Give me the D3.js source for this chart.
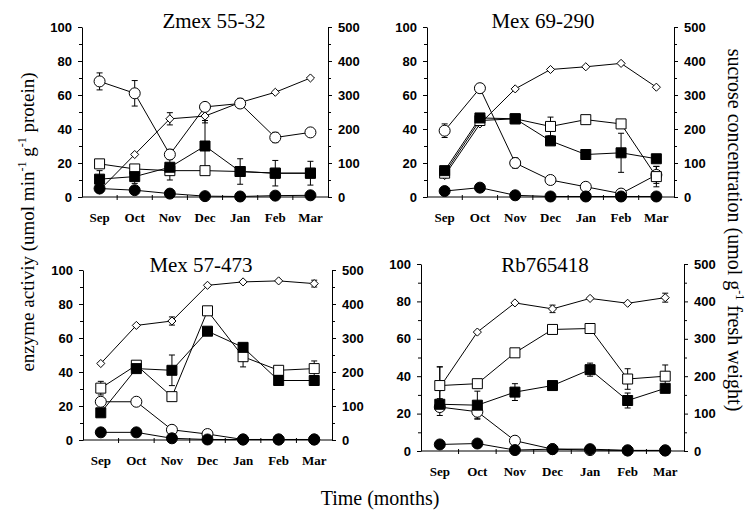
<!DOCTYPE html>
<html>
<head>
<meta charset="utf-8">
<script src="https://cdn.jsdelivr.net/npm/d3@7"></script>
<style>
  body { margin: 0; background: #fff; }
  svg { display: block; font-family: "Liberation Serif", "DejaVu Serif", serif; }
  .tick text { font-weight: bold; font-size: 13px; }
</style>
</head>
<body>
<svg id="chart" width="748" height="513"></svg>
<script>
// ---- data ----
const months = ["Sep", "Oct", "Nov", "Dec", "Jan", "Feb", "Mar"];
const leftTicks = [0, 20, 40, 60, 80, 100];
const rightTicks = [0, 100, 200, 300, 400, 500];
const titles = ["Zmex 55-32", "Mex 69-290", "Mex 57-473", "Rb765418"];

// enzyme activity (left axis), one row per panel
const openCircle = [
    [68, 61, 25, 53, 55, 35, 38],
    [39, 64, 20, 10, 6, 2, 13],
    [22.5, 22.5, 6, 3.5, 0.3, 0.3, 0.3],
    [23.5, 21, 5.5, 1, 0.5, 0.3, 0.3]
];
const openCircleErr = [
    [5, 7.5, 3, 0, 0, 3, 0],
    [4, 0, 3, 0, 0, 0, 5],
    [0, 0, 0, 0, 0, 0, 0],
    [4.5, 3.5, 0, 0, 0, 0, 0]
];
const filledCircle = [
    [5, 4, 2, 0.5, 0.3, 0.8, 1],
    [3.5, 5.5, 1, 0.3, 0.3, 0.3, 0.3],
    [4.5, 4.5, 1, 0.3, 0.3, 0.3, 0.3],
    [3.5, 4, 0.5, 1, 1, 0.3, 0.3]
];
const openSquare = [
    [19.5, 16.5, 15.5, 15.5, 15, 14, 14],
    [14, 45, 46, 41.5, 45.5, 43, 12],
    [30.5, 44, 25.5, 76, 49, 41, 42],
    [35, 36, 52.5, 65, 65.5, 38.5, 40]
];
const openSquareErr = [
    [0, 0, 0, 0, 0, 0, 0],
    [0, 0, 0, 5.5, 0, 0, 6],
    [4, 0, 0, 0, 6, 0, 4.5],
    [10, 0, 0, 0, 0, 5.5, 6]
];
const filledSquare = [
    [10.5, 12, 17.5, 30, 15, 14, 14],
    [15.5, 46.5, 46, 33, 25, 26, 22.5],
    [16, 42, 41, 64, 54.5, 35, 35],
    [25, 24.5, 31.5, 35, 43.5, 27, 33.5]
];
const filledSquareErr = [
    [5, 4, 7.5, 15, 7.5, 7.5, 7],
    [0, 0, 0, 0, 0, 11.5, 0],
    [0, 0, 9, 0, 0, 0, 0],
    [0, 7.5, 4.5, 0, 3.5, 4, 0]
];
// sucrose concentration (right axis)
const sucrose = [
    [20, 125, 230, 238, 278, 308, 350],
    [63, 215, 318, 375, 383, 393, 323],
    [225, 337, 350, 455, 465, 468, 460],
    [170, 318, 396, 380, 408, 395, 410]
];
const sucroseErr = [
    [0, 0, 18, 20, 12, 0, 0],
    [0, 0, 0, 0, 0, 0, 0],
    [0, 0, 12, 0, 0, 0, 10],
    [55, 0, 0, 10, 0, 0, 12]
];

// ---- layout ----
const boxes = [
    { x0: 82, x1: 328, y0: 27, y1: 197, tx: 214, ty: 28 },
    { x0: 427, x1: 674, y0: 27, y1: 197, tx: 543, ty: 28 },
    { x0: 83, x1: 332, y0: 270, y1: 440, tx: 201, ty: 272 },
    { x0: 421, x1: 684, y0: 264, y1: 451, tx: 545, ty: 272 }
];

const svg = d3.select("#chart");

function drawPanel(i) {
    const b = boxes[i];
    const g = svg.append("g");

    const x = d3.scaleBand().domain(months).range([b.x0, b.x1]);
    const yL = d3.scaleLinear().domain([0, 100]).range([b.y1, b.y0]);
    const yR = d3.scaleLinear().domain([0, 500]).range([b.y1, b.y0]);
    const cx = m => x(m) + x.bandwidth() / 2;

    // minor ticks first, then major axes
    g.append("g").attr("transform", `translate(${b.x0},0)`)
        .call(d3.axisLeft(yL).tickValues(d3.range(10, 100, 20)).tickSize(3).tickFormat(""))
        .call(a => a.select(".domain").remove());
    g.append("g").attr("transform", `translate(${b.x1},0)`)
        .call(d3.axisRight(yR).tickValues(d3.range(50, 500, 100)).tickSize(3).tickFormat(""))
        .call(a => a.select(".domain").remove());

    g.append("g").attr("transform", `translate(${b.x0},0)`)
        .call(d3.axisLeft(yL).tickValues(leftTicks).tickSize(4).tickSizeOuter(0).tickPadding(6));
    g.append("g").attr("transform", `translate(${b.x1},0)`)
        .call(d3.axisRight(yR).tickValues(rightTicks).tickSize(4).tickSizeOuter(0).tickPadding(6));

    // x axis: ticks at band edges, labels at band centres
    const xa = g.append("g").attr("transform", `translate(0,${b.y1})`);
    xa.append("line").attr("x1", b.x0).attr("x2", b.x1).attr("stroke", "#000");
    xa.selectAll(".xt").data(months.slice(1)).join("line")
        .attr("x1", d => x(d)).attr("x2", d => x(d))
        .attr("y1", -2).attr("y2", 3).attr("stroke", "#000");
    xa.selectAll(".xl").data(months).join("text")
        .attr("x", cx).attr("y", 25)
        .attr("text-anchor", "middle")
        .style("font-size", "13px").style("font-weight", "bold")
        .text(d => d);

    g.append("text")
        .attr("x", b.tx).attr("y", b.ty)
        .attr("text-anchor", "middle")
        .style("font-size", "21px")
        .text(titles[i]);

    const series = [
        { v: sucrose[i], e: sucroseErr[i], y: yR, shape: "diamond", fill: "#fff" },
        { v: openCircle[i], e: openCircleErr[i], y: yL, shape: "circle", fill: "#fff" },
        { v: openSquare[i], e: openSquareErr[i], y: yL, shape: "square", fill: "#fff" },
        { v: filledSquare[i], e: filledSquareErr[i], y: yL, shape: "square", fill: "#000" },
        { v: filledCircle[i], e: null, y: yL, shape: "circle", fill: "#000" }
    ];

    const line = s => d3.line().x((d, j) => cx(months[j])).y(d => s.y(d));

    series.forEach(s => {
        g.append("path").datum(s.v)
            .attr("d", line(s))
            .attr("fill", "none").attr("stroke", "#000").attr("stroke-width", 1);
    });

    // error bars
    series.forEach(s => {
        if (!s.e) return;
        s.v.forEach((d, j) => {
            const e = s.e[j];
            if (!e) return;
            const px = cx(months[j]);
            const top = s.y(d + e), bot = s.y(d - e);
            g.append("line").attr("x1", px).attr("x2", px).attr("y1", top).attr("y2", bot).attr("stroke", "#000");
            [top, bot].forEach(yy => g.append("line")
                .attr("x1", px - 3).attr("x2", px + 3).attr("y1", yy).attr("y2", yy).attr("stroke", "#000"));
        });
    });

    const symbols = {
        circle: d3.symbol().type(d3.symbolCircle).size(95),
        square: d3.symbol().type(d3.symbolSquare).size(100),
        diamond: d3.symbol().type(d3.symbolDiamond2).size(42)
    };

    series.forEach(s => {
        g.selectAll(null).data(s.v).join("path")
            .attr("transform", (d, j) => `translate(${cx(months[j])},${s.y(d)})`)
            .attr("d", symbols[s.shape]())
            .attr("fill", s.fill).attr("stroke", "#000").attr("stroke-width", 1);
    });
}

boxes.forEach((b, i) => drawPanel(i));

// axis titles
svg.append("text")
    .attr("transform", "translate(34,222) rotate(-90)")
    .attr("text-anchor", "middle")
    .style("font-size", "19px")
    .html('enzyme activiy (umol min<tspan dy="-8" font-size="12">-1</tspan><tspan dy="8"> g</tspan><tspan dy="-8" font-size="12">-1</tspan><tspan dy="8"> protein)</tspan>');

svg.append("text")
    .attr("transform", "translate(728,230) rotate(90)")
    .attr("text-anchor", "middle")
    .style("font-size", "20px")
    .html('sucrose concentration (umol g<tspan dy="-8" font-size="12">-1</tspan><tspan dy="8"> fresh weight)</tspan>');

svg.append("text")
    .attr("x", 380).attr("y", 505)
    .attr("text-anchor", "middle")
    .style("font-size", "20px")
    .text("Time (months)");
</script>
</body>
</html>
